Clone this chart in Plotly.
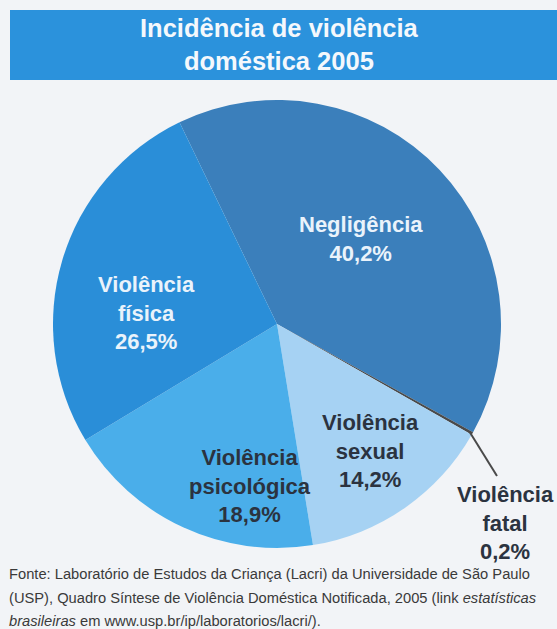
import math
import plotly.graph_objects as go

# ---- data ----
categories = ["Negligência", "Violência fatal", "Violência sexual", "Violência psicológica", "Violência física"]
label_lines = ["Negligência", "Violência<br>fatal", "Violência<br>sexual", "Violência<br>psicológica", "Violência<br>física"]
values = [40.2, 0.2, 14.2, 18.9, 26.5]
title_text = "Incidência de violência<br>doméstica 2005"
source_lines = [
    "Fonte: Laboratório de Estudos da Criança (Lacri) da Universidade de São Paulo",
    "(USP), Quadro Síntese de Violência Doméstica Notificada, 2005 (link <i>estatísticas</i>",
    "<i>brasileiras</i> em www.usp.br/ip/laboratorios/lacri/).",
]

# ---- styles / layout ----
W, H = 557, 629
colors = ["#3b7fbb", "#4a4a4a", "#a6d2f3", "#4aaeea", "#2a8ed8"]
text_colors = ["#eaf3fb", "#2b3340", "#2b3340", "#2b3340", "#eaf3fb"]
# label centre positions (px) per slice
label_pos = [(361, 239), (505, 523), (370, 451), (250, 486), (146, 313)]
cx, cy, R = 277, 324, 224
rotation = -25.8
font = "Liberation Sans, Arial, sans-serif"

fig = go.Figure()
fig.add_trace(go.Pie(
    labels=categories,
    values=values,
    sort=False,
    direction="clockwise",
    rotation=rotation,
    marker=dict(colors=colors, line=dict(width=0)),
    textinfo="none",
    hoverinfo="label+percent",
    showlegend=False,
    domain=dict(x=[(cx - R) / W, (cx + R) / W], y=[1 - (cy + R) / H, 1 - (cy - R) / H]),
))

def fmt(v):
    return ("%.1f" % v).replace(".", ",") + "%"

annotations = []
for i, (lab, v) in enumerate(zip(label_lines, values)):
    px, py = label_pos[i]
    annotations.append(dict(
        x=px / W, y=1 - py / H, xref="paper", yref="paper",
        text="<b>%s<br>%s</b>" % (lab, fmt(v)),
        showarrow=False, xanchor="center", yanchor="middle", align="center",
        font=dict(family=font, size=22, color=text_colors[i]),
    ))

# title
annotations.append(dict(
    x=279 / W, y=1 - 44 / H, xref="paper", yref="paper",
    text="<b>%s</b>" % title_text, showarrow=False,
    xanchor="center", yanchor="middle", align="center",
    font=dict(family=font, size=25.5, color="#f4f8fc"),
))

# source lines
for k, line in enumerate(source_lines):
    annotations.append(dict(
        x=7 / W, y=1 - (574 + 23.5 * k) / H, xref="paper", yref="paper",
        text=line, showarrow=False, xanchor="left", yanchor="middle", align="left",
        font=dict(family=font, size=14.7, color="#3a3a3a"),
    ))

# leader line for fatal slice: from pie edge at slice mid-angle
total = sum(values)
start = rotation + 360 * values[0] / total
mid = start + 360 * values[1] / total / 2
ang = math.radians(mid)
ex = cx + R * math.sin(ang)
ey = cy - R * math.cos(ang)

shapes = [
    dict(type="rect", xref="paper", yref="paper",
         x0=10 / W, x1=1.0, y0=1 - 80 / H, y1=1 - 10 / H,
         fillcolor="#2b92dc", line=dict(width=0), layer="below"),
    dict(type="line", xref="paper", yref="paper",
         x0=(ex - 3) / W, y0=1 - (ey - 2) / H, x1=497 / W, y1=1 - 476 / H,
         line=dict(color="#4a4a4a", width=2)),
]

fig.update_layout(
    width=W, height=H,
    margin=dict(l=0, r=0, t=0, b=0),
    paper_bgcolor="#f2f4f7",
    plot_bgcolor="#f2f4f7",
    annotations=annotations,
    shapes=shapes,
)

fig.write_html("out.html")
